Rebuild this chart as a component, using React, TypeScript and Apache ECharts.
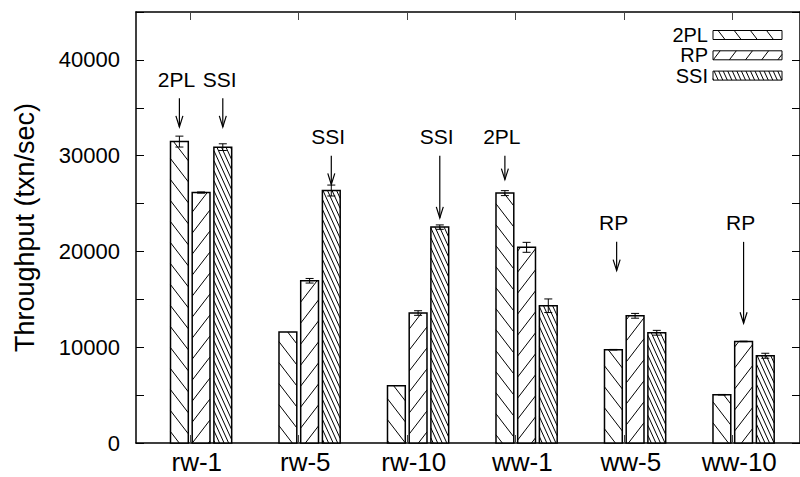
import React, { useEffect, useRef } from 'react';
import * as echarts from 'echarts';

const categories = ['rw-1', 'rw-5', 'rw-10', 'ww-1', 'ww-5', 'ww-10'];
const seriesNames = ['2PL', 'RP', 'SSI'];
const values2PL = [31470, 11580, 5980, 26090, 9740, 5040];
const valuesRP = [26150, 16940, 13570, 20430, 13280, 10600];
const valuesSSI = [30890, 26360, 22540, 14330, 11510, 9110];
const err2PL = [570, 0, 0, 260, 30, 30];
const errRP = [60, 240, 240, 520, 250, 30];
const errSSI = [350, 570, 230, 710, 250, 260];
const yTicks = [0, 10000, 20000, 30000, 40000];

// annotations: x position (category units), text, label y, arrow from, arrow to
const annX = [-0.2, 0.2, 1.2, 2.2, 2.8, 3.83, 5.0];
const annText = ['2PL', 'SSI', 'SSI', 'SSI', '2PL', 'RP', 'RP'];
const annLabelY = [38000, 38000, 32000, 32000, 32000, 23000, 23000];
const annFrom = [36000, 36000, 30000, 30000, 30000, 21000, 21000];
const annTo = [33000, 33000, 27000, 23500, 27500, 18000, 12500];

const FONT = 'Liberation Sans';
const BAR_OFFSETS = [-0.2, 0, 0.2];
const BAR_WIDTH = 0.164;
const PATTERNS = [
  { dir: 1, slope: 1.3, gap: 21 },
  { dir: -1, slope: 1.3, gap: 21 },
  { dir: 1, slope: 2.2, gap: 10 },
];

function hatch(x0: number, y0: number, x1: number, y1: number, p: { dir: number; slope: number; gap: number }) {
  const out: number[][] = [];
  const s = p.slope;
  if (p.dir === 1) {
    const cMin = y0 - s * x1;
    const cMax = y1 - s * x0;
    for (let c = Math.ceil(cMin / p.gap) * p.gap; c <= cMax; c += p.gap) {
      const xa = Math.max(x0, (y0 - c) / s);
      const xb = Math.min(x1, (y1 - c) / s);
      if (xb > xa) out.push([xa, s * xa + c, xb, s * xb + c]);
    }
  } else {
    const cMin = y0 + s * x0;
    const cMax = y1 + s * x1;
    for (let c = Math.ceil(cMin / p.gap) * p.gap; c <= cMax; c += p.gap) {
      const xa = Math.max(x0, (c - y1) / s);
      const xb = Math.min(x1, (c - y0) / s);
      if (xb > xa) out.push([xa, -s * xa + c, xb, -s * xb + c]);
    }
  }
  return out;
}

function hatchElements(x0: number, y0: number, x1: number, y1: number, k: number, outline: number) {
  const children: any[] = [];
  children.push({ type: 'rect', shape: { x: x0, y: y0, width: x1 - x0, height: y1 - y0 }, style: { fill: '#fff', stroke: 'none' } });
  hatch(x0, y0, x1, y1, PATTERNS[k]).forEach((l) =>
    children.push({ type: 'line', shape: { x1: l[0], y1: l[1], x2: l[2], y2: l[3] }, style: { stroke: '#000', lineWidth: 1 } })
  );
  children.push({ type: 'rect', shape: { x: x0, y: y0, width: x1 - x0, height: y1 - y0 }, style: { fill: 'none', stroke: '#000', lineWidth: outline } });
  return children;
}

function makeBarRender(k: number) {
  return (params: any, api: any) => {
    const i = api.value(0);
    const v = api.value(1);
    const e = api.value(2);
    const cx = i + BAR_OFFSETS[k];
    const tl = api.coord([cx - BAR_WIDTH / 2, v]);
    const br = api.coord([cx + BAR_WIDTH / 2, 0]);
    const children = hatchElements(tl[0], tl[1], br[0], br[1], k, 1.5);
    if (e > 0) {
      const top = api.coord([cx, v + e]);
      const bot = api.coord([cx, v - e]);
      const st = { stroke: '#000', lineWidth: 1 };
      children.push({ type: 'line', shape: { x1: top[0], y1: top[1], x2: bot[0], y2: bot[1] }, style: st });
      children.push({ type: 'line', shape: { x1: top[0] - 4, y1: top[1], x2: top[0] + 4, y2: top[1] }, style: st });
      children.push({ type: 'line', shape: { x1: bot[0] - 4, y1: bot[1], x2: bot[0] + 4, y2: bot[1] }, style: st });
    }
    return { type: 'group', children };
  };
}

const annRender = (params: any, api: any) => {
  const cx = api.value(0);
  const lab = api.coord([cx, api.value(1)]);
  const from = api.coord([cx, api.value(2)]);
  const to = api.coord([cx, api.value(3)]);
  return {
    type: 'group',
    children: [
      { type: 'text', style: { text: annText[params.dataIndex], x: lab[0] - 3, y: lab[1], align: 'center', verticalAlign: 'middle', fontSize: 21, fontFamily: FONT, fill: '#000' } },
      { type: 'line', shape: { x1: from[0], y1: from[1], x2: to[0], y2: to[1] }, style: { stroke: '#000', lineWidth: 1.2 } },
      { type: 'polyline', shape: { points: [[to[0] - 3.5, to[1] - 11], [to[0], to[1]], [to[0] + 3.5, to[1] - 11]] }, style: { stroke: '#000', fill: 'none', lineWidth: 1.2 } },
    ],
  };
};

export default function App() {
  const ref = useRef<HTMLDivElement>(null);
  useEffect(() => {
    document.body.style.margin = '0';
    if (!ref.current) return;
    const chart = echarts.init(ref.current, null, { renderer: 'svg' });
    const allValues = [values2PL, valuesRP, valuesSSI];
    const allErr = [err2PL, errRP, errSSI];

    const legendEls: any[] = [];
    seriesNames.forEach((name, k) => {
      const bx = 713, by = 30.5 + k * 20.3, bw = 69, bh = 9;
      legendEls.push({ type: 'text', style: { text: name, x: 708, y: by + bh / 2, align: 'right', verticalAlign: 'middle', fontSize: 20, lineHeight: 19, fontFamily: FONT, fill: '#000' } });
      hatchElements(bx, by, bx + bw, by + bh, k, 1).forEach((el) => legendEls.push(el));
    });

    const xTickVals = categories.map((_, i) => i - 0.1);
    const xLabelVals = categories.map((_, i) => i - 0.04);

    const yBase = {
      type: 'value', min: 0, max: 45000, interval: 5000,
      axisLine: { show: true, onZero: false, lineStyle: { color: '#000', width: 1.5 } },
      axisTick: { show: true, inside: true, length: 8, lineStyle: { color: '#000', width: 1 } },
      splitLine: { show: false },
    };
    const xBase = {
      type: 'value', min: -0.6, max: 5.52,
      axisLine: { show: true, onZero: false, lineStyle: { color: '#000', width: 1.5 } },
      axisTick: { show: true, inside: true, length: 8, customValues: xTickVals, lineStyle: { color: '#444', width: 1 } },
      splitLine: { show: false },
    };

    chart.setOption({
      animation: false,
      backgroundColor: '#fff',
      grid: { left: 136, top: 12, width: 665, height: 431 },
      xAxis: [
        {
          ...xBase, position: 'bottom',
          axisLabel: { customValues: xLabelVals, formatter: (v: number) => categories[Math.round(v)] ?? '', fontSize: 26, color: '#000', margin: 6, fontFamily: FONT },
        },
        { ...xBase, position: 'top', axisLabel: { show: false } },
      ],
      yAxis: [
        {
          ...yBase, position: 'left',
          name: 'Throughput (txn/sec)', nameLocation: 'middle', nameGap: 98, nameRotate: 90,
          nameTextStyle: { fontSize: 27, color: '#000', fontFamily: FONT },
          axisLabel: { formatter: (v: number) => (yTicks.includes(v) ? String(v) : ''), fontSize: 22, color: '#000', margin: 16, fontFamily: FONT },
        },
        { ...yBase, position: 'right', axisLabel: { show: false } },
      ],
      series: [
        ...seriesNames.map((name, k) => ({
          type: 'custom', name,
          xAxisIndex: 0, yAxisIndex: 0,
          renderItem: makeBarRender(k),
          encode: { x: 0, y: 1 },
          data: categories.map((_, i) => [i, allValues[k][i], allErr[k][i]]),
        })),
        {
          type: 'custom', name: 'annotations',
          xAxisIndex: 0, yAxisIndex: 0,
          renderItem: annRender,
          encode: { x: 0, y: 1 },
          data: annX.map((x, j) => [x, annLabelY[j], annFrom[j], annTo[j]]),
        },
      ],
      graphic: legendEls,
    });
    return () => chart.dispose();
  }, []);
  return <div ref={ref} style={{ width: 800, height: 477 }} />;
}
